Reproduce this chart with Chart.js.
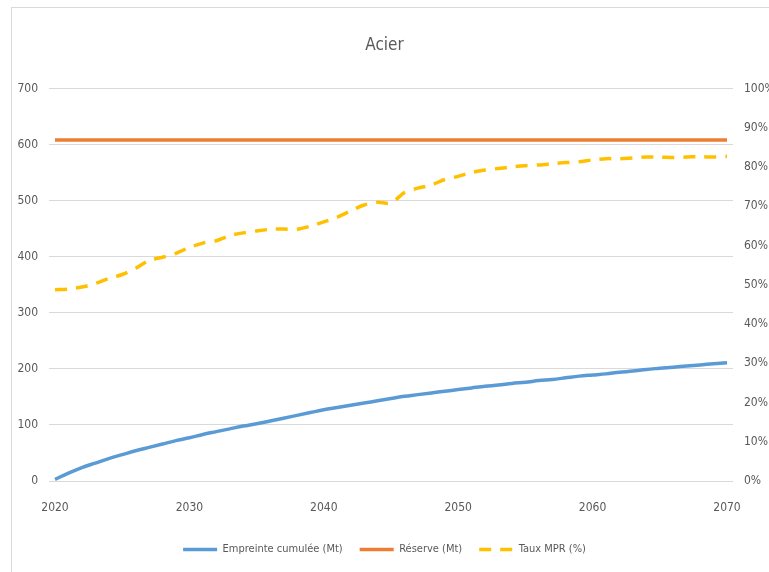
<!DOCTYPE html>
<html>
<head>
<meta charset="utf-8">
<script src="https://cdn.jsdelivr.net/npm/chart.js@4"></script>
<style>
    html, body { margin: 0; padding: 0; background: #fff; overflow: hidden; }
    #frame { position: absolute; left: 11px; top: 7px; width: 800px; height: 600px; border: 1px solid #d9d9d9; }
    #wrap { position: absolute; left: 0; top: 0; width: 769px; height: 572px; }
</style>
</head>
<body>
<div id="frame"></div>
<div id="wrap"><canvas id="chart"></canvas></div>
<script>
// Années 2020 -> 2070
const annees = [];
for (let a = 2020; a <= 2070; a++) annees.push(a);

const xTicks = [2020, 2030, 2040, 2050, 2060, 2070];

// Empreinte cumulée (Mt)
const empreinte = [
    3, 14, 24, 32, 40, 47, 54, 60, 66, 72,
    77, 83, 88, 93, 98, 102, 107, 112, 117, 122,
    127, 131, 135, 139, 143, 147, 151, 154, 157, 160,
    163, 166, 169, 171, 174, 176, 179, 181, 184, 187,
    189, 191, 194, 196, 199, 201, 203, 205, 207, 209,
    211
];

// Réserve (Mt)
const reserve = annees.map(() => 608);

// Taux MPR (%)
const tauxMpr = [
    48.7, 48.9, 49.4, 50.3, 51.6, 52.6, 54.2, 56.2, 57.0, 58.0,
    59.5, 60.6, 61.2, 62.5, 63.2, 63.7, 64.1, 64.2, 64.1, 64.9,
    66.0, 67.2, 68.8, 70.3, 71.0, 70.8, 73.5, 74.6, 75.4, 76.8,
    77.6, 78.6, 79.2, 79.6, 80.0, 80.3, 80.5, 80.8, 81.1, 81.3,
    81.8, 82.1, 82.1, 82.3, 82.5, 82.5, 82.4, 82.5, 82.6, 82.5,
    82.7
];

const police = "'DejaVu Sans Condensed', 'Liberation Sans Narrow', 'Liberation Sans', sans-serif";
const gris = '#595959';

function pts(valeurs) {
    return valeurs.map((v, i) => ({ x: annees[i], y: v }));
}

const ctx = document.getElementById('chart');
new Chart(ctx, {
    type: 'line',
    data: {
        datasets: [
            {
                label: 'Empreinte cumulée (Mt)',
                data: pts(empreinte),
                borderColor: '#5B9BD5',
                backgroundColor: '#5B9BD5',
                borderWidth: 3.5,
                pointRadius: 0,
                cubicInterpolationMode: 'monotone',
                yAxisID: 'y'
            },
            {
                label: 'Réserve (Mt)',
                data: pts(reserve),
                borderColor: '#ED7D31',
                backgroundColor: '#ED7D31',
                borderWidth: 3.5,
                pointRadius: 0,
                yAxisID: 'y'
            },
            {
                label: 'Taux MPR (%)',
                data: pts(tauxMpr),
                borderColor: '#FFC000',
                backgroundColor: '#FFC000',
                borderWidth: 3.5,
                borderDash: [12, 9],
                pointRadius: 0,
                tension: 0.3,
                yAxisID: 'y1'
            }
        ]
    },
    options: {
        responsive: true,
        maintainAspectRatio: false,
        animation: false,
        layout: { padding: { top: 0, left: 0, right: 0, bottom: 7 } },
        plugins: {
            tooltip: { enabled: false },
            title: {
                display: true,
                text: 'Acier',
                color: gris,
                font: { family: police, size: 17, weight: 'normal' },
                padding: { top: 35, bottom: 33 }
            },
            legend: {
                position: 'bottom',
                labels: {
                    color: gris,
                    font: { family: police, size: 11 },
                    usePointStyle: true,
                    pointStyle: 'line',
                    pointStyleWidth: 34,
                    boxWidth: 34,
                    padding: 17,
                    // le style pointillé n'est pas repris par défaut
                    generateLabels: (chart) => {
                        const items = Chart.defaults.plugins.legend.labels.generateLabels(chart);
                        items.forEach(it => {
                            const ds = chart.data.datasets[it.datasetIndex];
                            it.lineDash = ds.borderDash || [];
                            it.lineWidth = ds.borderWidth;
                            it.strokeStyle = ds.borderColor;
                        });
                        return items;
                    }
                }
            }
        },
        scales: {
            x: {
                type: 'linear',
                min: 2019.554,
                max: 2070.446,
                afterBuildTicks: (axis) => { axis.ticks = xTicks.map(v => ({ value: v })); },
                afterFit: (axis) => { axis.height = 46; },
                grid: { display: false },
                border: { display: false },
                ticks: {
                    color: gris,
                    font: { family: police, size: 12 },
                    padding: 12,
                    maxRotation: 0,
                    callback: (v) => String(v)
                }
            },
            y: {
                position: 'left',
                min: 0,
                max: 700,
                afterFit: (axis) => { axis.width = 49; },
                grid: { color: '#D9D9D9', lineWidth: 1, drawTicks: false },
                border: { display: false },
                ticks: {
                    stepSize: 100,
                    color: gris,
                    font: { family: police, size: 12 },
                    padding: 11
                }
            },
            y1: {
                position: 'right',
                min: 0,
                max: 100,
                afterFit: (axis) => { axis.width = 36; },
                grid: { drawOnChartArea: false, drawTicks: false },
                border: { display: false },
                ticks: {
                    stepSize: 10,
                    color: gris,
                    font: { family: police, size: 12 },
                    padding: 11,
                    callback: (v) => v + '%'
                }
            }
        }
    }
});
</script>
</body>
</html>
